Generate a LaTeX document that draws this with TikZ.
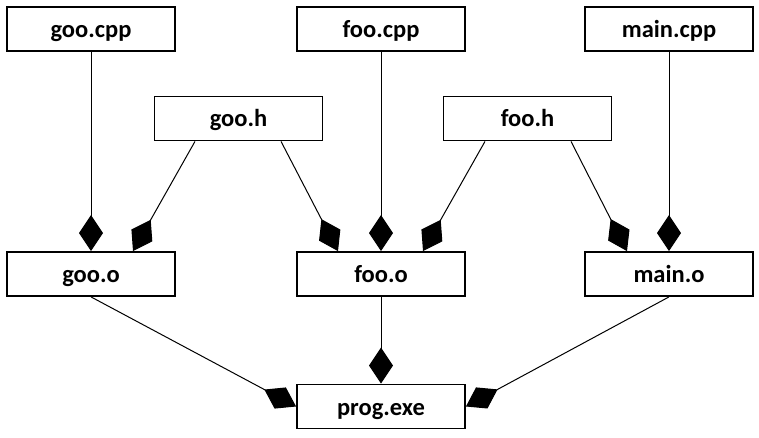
\documentclass[tikz,border=0pt]{standalone}
\usepackage{fontspec}
\setmainfont{Carlito}
\usetikzlibrary{arrows.meta}
\tikzset{
  filebox/.style={draw=black, line width=1.8pt, fill=white, minimum width=168pt, minimum height=44pt, inner sep=0pt, text height=18pt, text depth=1pt, font=\bfseries\fontsize{24.5}{28}\selectfont},
  dep/.style={line width=1pt, -{Diamond[length=36pt, width=24pt]}}
}
\begin{document}
\begin{tikzpicture}[x=1pt, y=-1pt]
\useasboundingbox (0,0) rectangle (759,438);
\node[filebox] (goocpp) at (91,29) {goo.cpp};
\node[filebox] (foocpp) at (381,29) {foo.cpp};
\node[filebox] (maincpp) at (669,29) {main.cpp};
\node[filebox] (gooh) at (238.5,118.5) {goo.h};
\node[filebox] (fooh) at (527.5,118.5) {foo.h};
\node[filebox] (gooo) at (91,274) {goo.o};
\node[filebox] (fooo) at (381,274) {foo.o};
\node[filebox] (maino) at (669,274) {main.o};
\node[filebox] (prog) at (381,406.5) {prog.exe};
\draw[dep] (goocpp.south) -- (gooo.north);
\draw[dep] ([xshift=-43.5pt]gooh.south) -- ([xshift=42pt]gooo.north);
\draw[dep] ([xshift=42.5pt]gooh.south) -- ([xshift=-43pt]fooo.north);
\draw[dep] (foocpp.south) -- (fooo.north);
\draw[dep] ([xshift=-42.5pt]fooh.south) -- ([xshift=42pt]fooo.north);
\draw[dep] ([xshift=43.5pt]fooh.south) -- ([xshift=-42pt]maino.north);
\draw[dep] (maincpp.south) -- (maino.north);
\draw[dep] (gooo.south) -- (prog.west);
\draw[dep] (fooo.south) -- (prog.north);
\draw[dep] (maino.south) -- (prog.east);
\end{tikzpicture}
\end{document}
